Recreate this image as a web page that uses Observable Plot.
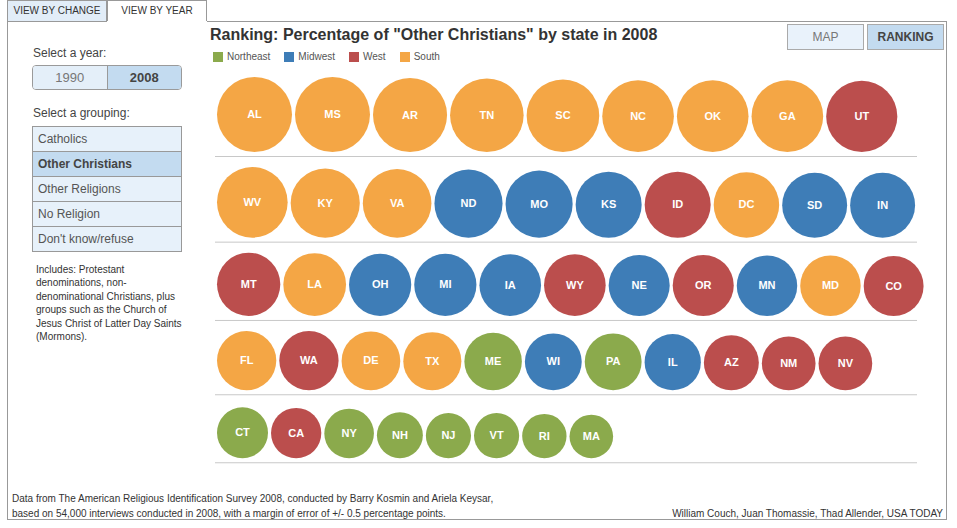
<!DOCTYPE html>
<html>
<head>
<meta charset="utf-8">
<script src="https://cdn.jsdelivr.net/npm/d3@7"></script>
<script src="https://cdn.jsdelivr.net/npm/@observablehq/plot@0.6"></script>
<style>
  body { margin: 0; background: #fff; font-family: Arial, "Liberation Sans", Helvetica, sans-serif; color: #333; }
  #page { position: relative; width: 957px; height: 528px; overflow: hidden; background: #fff; }
  .abs { position: absolute; white-space: nowrap; }
  .tab { position: absolute; box-sizing: border-box; height: 21px; width: 100px; top: 0; border: 1px solid #999; border-bottom: none;
         font-size: 10px; line-height: 20px; text-align: center; color: #333; }
  .hline { position: absolute; height: 0; border-top: 1px solid #999; }
  .toggle { position: absolute; left: 32px; top: 65px; width: 150px; height: 25px; box-sizing: border-box;
            border: 1px solid #9a9a9a; border-radius: 4px; overflow: hidden; display: flex; }
  .toggle div { flex: 1; text-align: center; font-size: 13px; line-height: 23px; }
  .toggle div + div { border-left: 1px solid #9a9a9a; }
  .list { position: absolute; left: 32px; top: 126px; width: 150px; box-sizing: border-box; border: 1px solid #999; }
  .list div { height: 24px; line-height: 24px; padding-left: 5px; font-size: 12px; color: #555; background: #e7f1fa; }
  .list div + div { border-top: 1px solid #999; }
  .list div.on { background: #c3dbf0; font-weight: bold; color: #444; }
  .btn { position: absolute; top: 24px; height: 26px; width: 77px; box-sizing: border-box; border: 1px solid #aaa;
         text-align: center; font-size: 12px; line-height: 24px; }
  .legend { position: absolute; left: 213px; top: 52px; display: flex; font-size: 10px; color: #555; }
  .legend span.item { display: flex; align-items: center; margin-right: 14px; line-height: 10px; }
  .legend span.sw { width: 10px; height: 10px; margin-right: 4px; display: inline-block; }
  #chart { position: absolute; left: 205px; top: 66px; }
</style>
</head>
<body>
<div id="page">
  <div class="tab" style="left:7px; background:#e2edf8;">VIEW BY CHANGE</div>
  <div class="tab" style="left:107px; background:#fff;">VIEW BY YEAR</div>
  <div class="hline" style="left:7px; top:21px; width:100px;"></div>
  <div class="hline" style="left:207px; top:21px; width:740px;"></div>
  <div class="abs" style="left:7px; top:21px; width:0; height:498px; border-left:1px solid #999;"></div>
  <div class="abs" style="left:946px; top:21px; width:0; height:498px; border-left:1px solid #999;"></div>
  <div class="hline" style="left:7px; top:519px; width:940px;"></div>

  <div class="abs" style="left:33px; top:47px; font-size:12px; line-height:12px; color:#444;">Select a year:</div>
  <div class="toggle" id="years"></div>
  <div class="abs" style="left:33px; top:107px; font-size:12px; line-height:12px; color:#444;">Select a grouping:</div>
  <div class="list" id="groups"></div>
  <div class="abs" id="note" style="left:36px; top:263px; font-size:10px; line-height:13.4px; color:#333; white-space:normal; width:150px;"></div>

  <div class="abs" id="title" style="left:210px; top:27px; font-size:16px; line-height:16px; font-weight:bold; color:#333;"></div>
  <div class="legend" id="legend"></div>

  <div class="btn" style="left:787px; background:#e9f2fb; color:#777;">MAP</div>
  <div class="btn" style="left:867px; background:#c3dbf0; color:#444; font-weight:bold;">RANKING</div>

  <div id="chart"></div>

  <div class="abs" id="source" style="left:12px; top:491px; font-size:10px; line-height:15px; color:#333;"></div>
  <div class="abs" id="credit" style="right:14px; top:506px; font-size:10px; line-height:15px; color:#333;"></div>
</div>

<script>
// Share of "Other Christians" by state, 2008, ranked from highest to lowest
const states = ["AL","MS","AR","TN","SC","NC","OK","GA","UT",
                "WV","KY","VA","ND","MO","KS","ID","DC","SD","IN",
                "MT","LA","OH","MI","IA","WY","NE","OR","MN","MD","CO",
                "FL","WA","DE","TX","ME","WI","PA","IL","AZ","NM","NV",
                "CT","CA","NY","NH","NJ","VT","RI","MA"];
const regions = ["South","South","South","South","South","South","South","South","West",
                 "South","South","South","Midwest","Midwest","Midwest","West","South","Midwest","Midwest",
                 "West","South","Midwest","Midwest","Midwest","West","Midwest","West","Midwest","South","West",
                 "South","West","South","South","Northeast","Midwest","Northeast","Midwest","West","West","West",
                 "Northeast","West","Northeast","Northeast","Northeast","Northeast","Northeast","Northeast"];
const percents = [80, 80, 78, 77, 75, 73, 73, 73, 72,
                  71, 68, 67, 66, 64, 62, 62, 61, 60, 60,
                  57, 56, 55, 55, 54, 54, 53, 53, 52, 52, 51,
                  50, 50, 49, 48, 47, 46, 46, 45, 43, 41, 41,
                  37, 36, 35, 30, 29, 29, 28, 27];

const regionNames = ["Northeast", "Midwest", "West", "South"];
const regionColors = ["#8baa4c", "#3e7db7", "#bb4e4d", "#f4a645"];

const years = ["1990", "2008"];
const selectedYear = "2008";
const groupings = ["Catholics", "Other Christians", "Other Religions", "No Religion", "Don't know/refuse"];
const selectedGrouping = "Other Christians";

const noteText = "Includes: Protestant denominations, non-<br>denominational Christians, plus groups such as the Church of Jesus Christ of Latter Day Saints (Mormons).";
const titleText = `Ranking: Percentage of "${selectedGrouping}" by state in ${selectedYear}`;
const sourceLines = [
  "Data from The American Religious Identification Survey 2008, conducted by Barry Kosmin and Ariela Keysar,",
  "based on 54,000 interviews conducted in 2008, with a margin of error of +/- 0.5 percentage points."
];
const creditText = "William Couch, Juan Thomassie, Thad Allender, USA TODAY";

(function () {
  // ---- side panel, title, legend, footer ----
  document.getElementById("years").innerHTML = years.map(y =>
    y === selectedYear
      ? `<div style="background:#c3dbf0;color:#444;font-weight:bold">${y}</div>`
      : `<div style="background:#e4eff9;color:#777">${y}</div>`).join("");
  document.getElementById("groups").innerHTML = groupings.map(g =>
    `<div class="${g === selectedGrouping ? "on" : ""}">${g}</div>`).join("");
  document.getElementById("note").innerHTML = noteText;
  document.getElementById("title").textContent = titleText;
  document.getElementById("legend").innerHTML = regionNames.map((n, i) =>
    `<span class="item"><span class="sw" style="background:${regionColors[i]}"></span>${n}</span>`).join("");
  document.getElementById("source").innerHTML = sourceLines.join("<br>");
  document.getElementById("credit").textContent = creditText;

  // ---- bubble ranking ----
  const maxPercent = 80, maxRadius = 37.5;
  const radius = d3.scaleSqrt().domain([0, maxPercent]).range([0, maxRadius]);

  const data = states.map((s, i) => ({state: s, region: regions[i], pct: percents[i]}));

  // wrap circles left to right into rows, each row bottom-aligned above its rule
  const width = 735, height = 405;
  const gap = 3, startX = 11.5, rowLimit = 719.5, padTop = 10.5, padBottom = 4.5, minRowHeight = 68;
  const rows = [];
  let cursor = startX, row = null;
  for (const d of data) {
    const r = radius(d.pct);
    if (!row || cursor + 2 * r > rowLimit) { row = []; rows.push(row); cursor = startX; }
    d.cx = cursor + r;
    d.rad = r;
    cursor += 2 * r + gap;
    row.push(d);
  }
  const rules = [];
  let rowTop = 0;
  for (const rw of rows) {
    const maxD = 2 * d3.max(rw, d => d.rad);
    const line = rowTop + Math.max(padTop + maxD + padBottom, minRowHeight);
    for (const d of rw) d.cy = line - padBottom - d.rad;
    rules.push(line);
    rowTop = line;
  }

  const chart = Plot.plot({
    width, height,
    marginTop: 0, marginBottom: 0, marginLeft: 10, marginRight: 23,
    x: {type: "identity", axis: null},
    y: {type: "identity", axis: null},
    r: {type: "sqrt", domain: [0, maxPercent], range: [0, maxRadius]},
    color: {domain: regionNames, range: regionColors},
    style: {background: "transparent", fontFamily: "Arial, 'Liberation Sans', sans-serif", overflow: "visible"},
    marks: [
      Plot.ruleY(rules, {y: d => d, stroke: "#c8c8c8", strokeWidth: 1}),
      Plot.dot(data, {x: "cx", y: "cy", r: "pct", fill: "region", stroke: "none"}),
      Plot.text(data, {x: "cx", y: "cy", text: "state", fill: "white", fontSize: 11, fontWeight: "bold"})
    ]
  });
  document.getElementById("chart").appendChild(chart);
})();
</script>
</body>
</html>
